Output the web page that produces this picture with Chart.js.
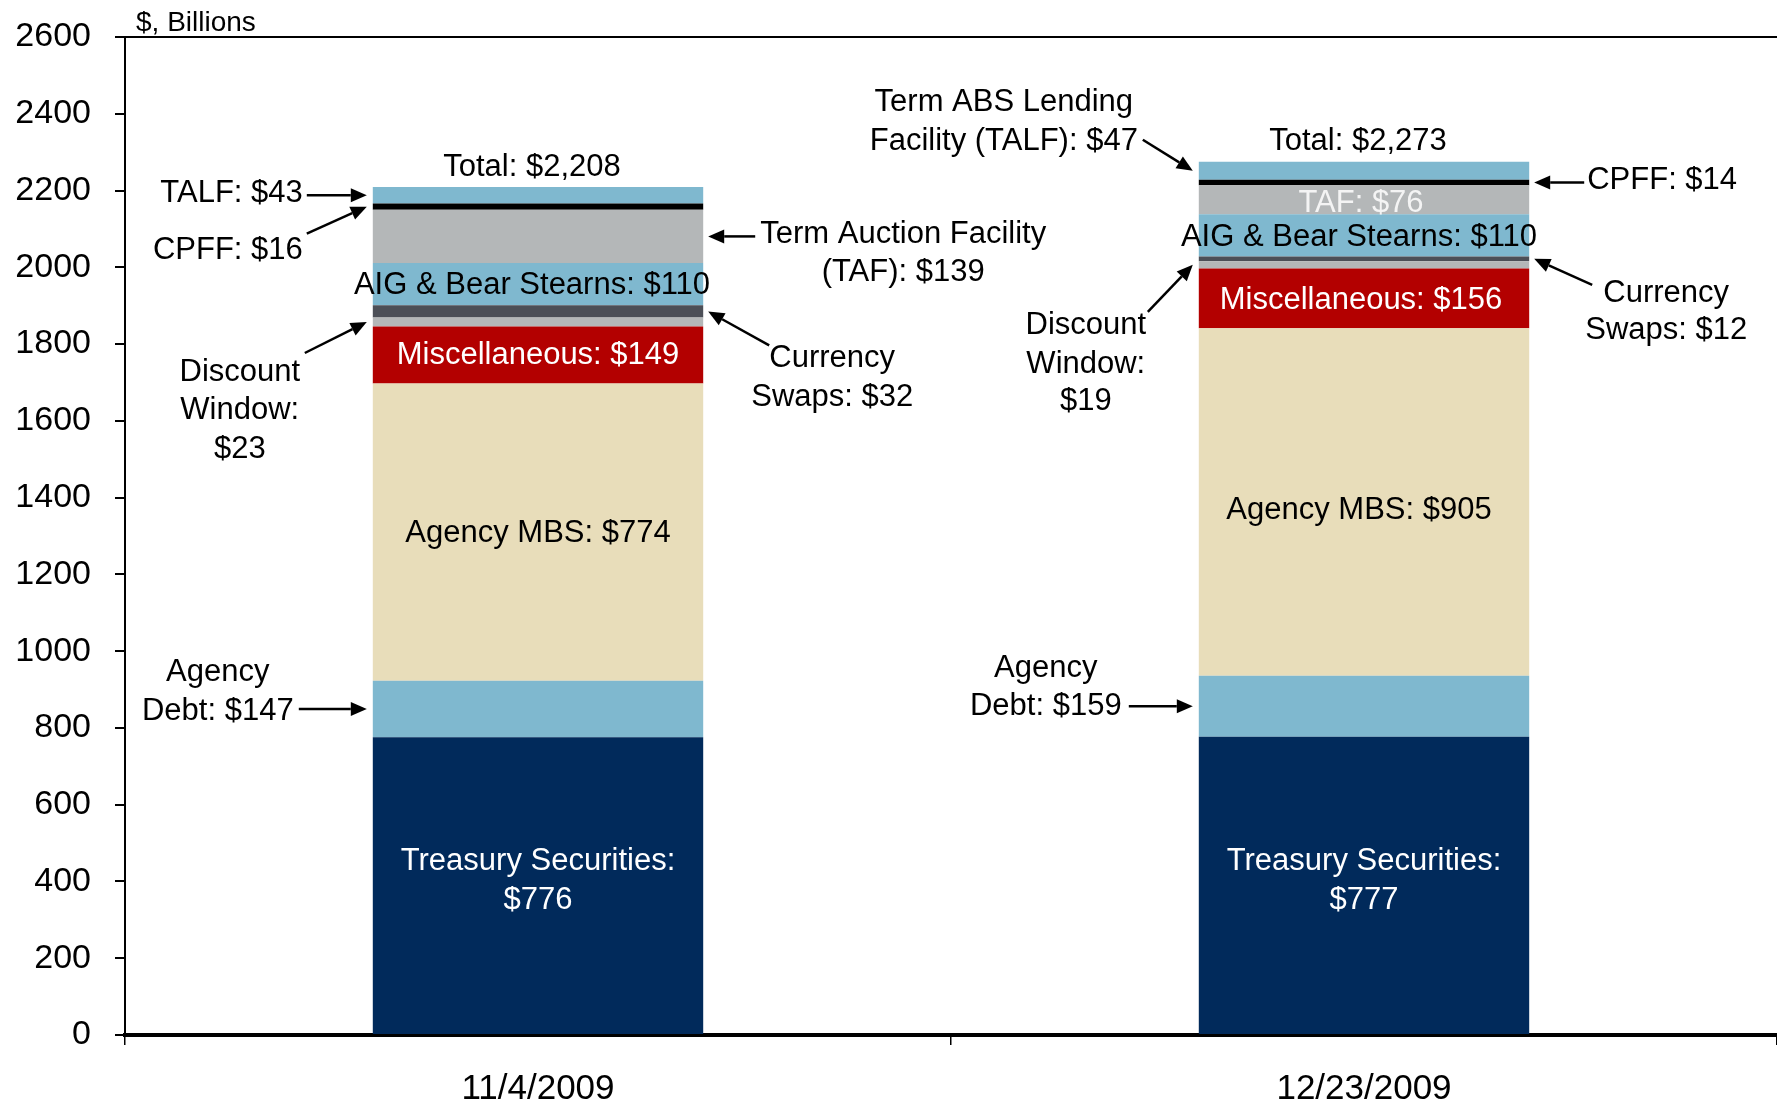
<!DOCTYPE html>
<html>
<head>
<meta charset="utf-8">
<script src="https://cdn.jsdelivr.net/npm/chart.js@4.4.0/dist/chart.umd.min.js"></script>
<style>
  html, body { margin: 0; padding: 0; background: #fff; }
  #wrap { width: 1777px; height: 1101px; }
</style>
</head>
<body>
<div id="wrap"><canvas id="balanceChart" width="1777" height="1101"></canvas></div>
<script>
// Fed balance sheet assets, $ billions
const categories = ['11/4/2009', '12/23/2009'];
const treasury = [776, 777];
const agencyDebt = [147, 159];
const agencyMBS = [774, 905];
const misc = [149, 156];
const discountWindow = [23, 19];
const currencySwaps = [32, 12];
const aigBear = [110, 110];
const taf = [139, 76];
const cpff = [16, 14];
const talf = [43, 47];
const totals = ['2,208', '2,273'];
const yMax = 2600;
const yStep = 200;

const FONT = "'Liberation Sans', Arial, Helvetica, sans-serif";

const NAVY = '#012a5b';
const LBLUE = '#7fb8cf';
const BEIGE = '#e8ddba';
const RED = '#b30000';
const LGRAY = '#b4b7b8';
const DGRAY = '#4c4f57';

// dataset order bottom -> top
const series = [
    { key: 'treasury', data: treasury, color: NAVY },
    { key: 'agencyDebt', data: agencyDebt, color: LBLUE },
    { key: 'agencyMBS', data: agencyMBS, color: BEIGE },
    { key: 'misc', data: misc, color: RED },
    { key: 'dw', data: discountWindow, color: LGRAY },
    { key: 'swaps', data: currencySwaps, color: DGRAY },
    { key: 'aig', data: aigBear, color: LBLUE },
    { key: 'taf', data: taf, color: LGRAY },
    { key: 'cpff', data: cpff, color: '#000000' },
    { key: 'talf', data: talf, color: LBLUE }
];
const idx = {};
series.forEach((s, i) => idx[s.key] = i);

// labels inside the bars
const insideLabels = [
    { bar: 0, ds: 'treasury', lines: ['Treasury Securities:', '$' + treasury[0]], color: '#fff', dy: [-24, 15] },
    { bar: 0, ds: 'agencyMBS', lines: ['Agency MBS: $' + agencyMBS[0]], color: '#000', dy: [1] },
    { bar: 0, ds: 'misc', lines: ['Miscellaneous: $' + misc[0]], color: '#fff', dy: [0] },
    { bar: 0, ds: 'aig', lines: ['AIG & Bear Stearns: $' + aigBear[0]], color: '#000', dy: [1], dx: -6 },
    { bar: 1, ds: 'treasury', lines: ['Treasury Securities:', '$' + treasury[1]], color: '#fff', dy: [-24, 15] },
    { bar: 1, ds: 'agencyMBS', lines: ['Agency MBS: $' + agencyMBS[1]], color: '#000', dy: [8], dx: -5 },
    { bar: 1, ds: 'misc', lines: ['Miscellaneous: $' + misc[1]], color: '#fff', dy: [2], dx: -3 },
    { bar: 1, ds: 'aig', lines: ['AIG & Bear Stearns: $' + aigBear[1]], color: '#000', dy: [2], dx: -5 },
    { bar: 1, ds: 'taf', lines: ['TAF: $' + taf[1]], color: '#f4f4f4', dy: [4], dx: -3 }
];

// callouts with arrows: offsets are relative to the arrow tip
const callouts = [
    { bar: 0, ds: 'talf', side: 'left', tail: [-60, 0], lines: ['TALF: $' + talf[0]], align: 'right', tx: -64, ty: [-2] },
    { bar: 0, ds: 'cpff', side: 'left', tail: [-60, 27], lines: ['CPFF: $' + cpff[0]], align: 'right', tx: -64, ty: [44] },
    { bar: 0, ds: 'dw', side: 'left', tail: [-62, 31], lines: ['Discount', 'Window:', '$' + discountWindow[0]], align: 'center', tx: -127, ty: [50, 88, 127] },
    { bar: 0, ds: 'agencyDebt', side: 'left', tail: [-68, 0], lines: ['Agency', 'Debt: $' + agencyDebt[0]], align: 'center', tx: -149, ty: [-36, 3] },
    { bar: 0, ds: 'taf', side: 'right', tail: [47, 0], lines: ['Term Auction Facility', '(TAF): $' + taf[0]], align: 'center', tx: 195, ty: [-2, 36] },
    { bar: 0, ds: 'swaps', side: 'right', tail: [61, 34], lines: ['Currency', 'Swaps: $' + currencySwaps[0]], align: 'center', tx: 124, ty: [47, 86] },
    { bar: 1, ds: 'talf', side: 'left', tail: [-50, -31], lines: ['Term ABS Lending', 'Facility (TALF): $' + talf[1]], align: 'center', tx: -189, ty: [-68, -29] },
    { bar: 1, ds: 'cpff', side: 'right', tail: [50, 0], lines: ['CPFF: $' + cpff[1]], align: 'left', tx: 53, ty: [-2] },
    { bar: 1, ds: 'swaps', side: 'right', tail: [58, 26], lines: ['Currency', 'Swaps: $' + currencySwaps[1]], align: 'center', tx: 132, ty: [35, 72] },
    { bar: 1, ds: 'dw', side: 'left', tail: [-45, 47], lines: ['Discount', 'Window:', '$' + discountWindow[1]], align: 'center', tx: -107, ty: [61, 100, 137] },
    { bar: 1, ds: 'agencyDebt', side: 'left', tail: [-64, 0], lines: ['Agency', 'Debt: $' + agencyDebt[1]], align: 'center', tx: -147, ty: [-38, 0] }
];

function drawArrow(ctx, x1, y1, x2, y2) {
    const ang = Math.atan2(y2 - y1, x2 - x1);
    const head = 16, half = 7;
    const bx = x2 - head * Math.cos(ang), by = y2 - head * Math.sin(ang);
    ctx.beginPath();
    ctx.moveTo(x1, y1);
    ctx.lineTo(bx, by);
    ctx.stroke();
    ctx.beginPath();
    ctx.moveTo(x2, y2);
    ctx.lineTo(bx + half * Math.sin(ang), by - half * Math.cos(ang));
    ctx.lineTo(bx - half * Math.sin(ang), by + half * Math.cos(ang));
    ctx.closePath();
    ctx.fill();
}

const annotationPlugin = {
    id: 'annotations',
    afterDraw(chart) {
        const ctx = chart.ctx;
        const area = chart.chartArea;
        ctx.save();

        // top frame line
        ctx.strokeStyle = '#000';
        ctx.lineWidth = 2;
        ctx.beginPath();
        ctx.moveTo(area.left - 10, area.top);
        ctx.lineTo(chart.width, area.top);
        ctx.stroke();

        // unit label
        ctx.fillStyle = '#000';
        ctx.font = '28px ' + FONT;
        ctx.textAlign = 'left';
        ctx.textBaseline = 'middle';
        ctx.fillText('$, Billions', area.left + 11, 23);

        ctx.font = '31px ' + FONT;

        const seg = (ds, bar) => {
            const el = chart.getDatasetMeta(idx[ds]).data[bar];
            return { x: el.x, mid: (el.y + el.base) / 2, left: el.x - el.width / 2, right: el.x + el.width / 2, top: el.y };
        };

        // totals
        categories.forEach((c, i) => {
            const top = seg('talf', i);
            ctx.fillStyle = '#000';
            ctx.textAlign = 'center';
            ctx.fillText('Total: $' + totals[i], top.x - 6, top.top - 20);
        });

        insideLabels.forEach(l => {
            const s = seg(l.ds, l.bar);
            ctx.fillStyle = l.color;
            ctx.textAlign = 'center';
            l.lines.forEach((t, k) => ctx.fillText(t, s.x + (l.dx || 0), s.mid + l.dy[k]));
        });

        callouts.forEach(c => {
            const s = seg(c.ds, c.bar);
            const tipX = c.side === 'left' ? s.left - 6 : s.right + 5;
            const tipY = s.mid;
            ctx.strokeStyle = '#000';
            ctx.fillStyle = '#000';
            ctx.lineWidth = 2.5;
            drawArrow(ctx, tipX + c.tail[0], tipY + c.tail[1], tipX, tipY);
            ctx.textAlign = c.align;
            c.lines.forEach((t, k) => ctx.fillText(t, tipX + c.tx, tipY + c.ty[k]));
        });

        ctx.restore();
    }
};

const ctx = document.getElementById('balanceChart').getContext('2d');
new Chart(ctx, {
    type: 'bar',
    data: {
        labels: categories,
        datasets: series.map(s => ({
            label: s.key,
            data: s.data,
            backgroundColor: s.color,
            borderWidth: 0,
            barPercentage: 0.4,
            categoryPercentage: 1.0
        }))
    },
    options: {
        responsive: false,
        animation: false,
        layout: { padding: { top: 37, right: 0, left: 0, bottom: 0 } },
        plugins: {
            legend: { display: false },
            tooltip: { enabled: false }
        },
        scales: {
            x: {
                stacked: true,
                afterFit: scale => { scale.height = 66; scale.paddingLeft = 0; scale.paddingRight = 0; },
                border: { color: '#000', width: 4 },
                grid: { drawOnChartArea: false, drawTicks: true, tickLength: 10, color: '#000', lineWidth: 1.5, offset: true },
                ticks: { color: '#000', font: { family: FONT, size: 35 }, padding: 23 }
            },
            y: {
                stacked: true,
                min: 0,
                max: yMax,
                afterFit: scale => { scale.width = 125; scale.paddingTop = 0; scale.paddingBottom = 0; },
                border: { color: '#000', width: 2 },
                grid: { drawOnChartArea: false, drawTicks: true, tickLength: 10, color: '#000', lineWidth: 2 },
                ticks: { stepSize: yStep, color: '#000', font: { family: FONT, size: 34 }, padding: 24, callback: v => String(v) }
            }
        }
    },
    plugins: [annotationPlugin]
});
</script>
</body>
</html>
